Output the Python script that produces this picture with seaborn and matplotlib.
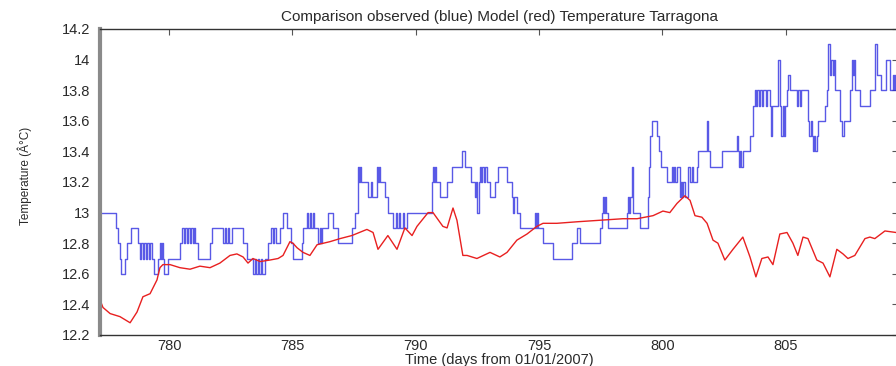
import matplotlib
matplotlib.use("Agg")
import matplotlib.pyplot as plt
import seaborn as sns
import pandas as pd
from matplotlib.ticker import MultipleLocator, FuncFormatter

# Observed sea temperature at Tarragona (step changes, 0.1 degC resolution)
obs_day = [
    777.20, 777.85, 777.93, 778.01, 778.05, 778.21, 778.29, 778.46, 778.74,
    778.82, 778.86, 778.95, 778.99, 779.08, 779.12, 779.20, 779.24,
    779.31, 779.39, 779.55, 779.63, 779.68, 779.71, 779.75, 779.79, 779.96,
    780.44, 780.52, 780.60, 780.64, 780.72, 780.76, 780.84, 780.88, 780.96, 781.00,
    781.05, 781.17, 781.66, 781.74, 782.19, 782.28, 782.32, 782.40, 782.44,
    782.55, 783.00, 783.16, 783.40, 783.48, 783.52, 783.60, 783.64, 783.72, 783.76,
    783.89, 784.01, 784.13, 784.20, 784.24, 784.33, 784.50, 784.62, 784.78, 784.94,
    785.04, 785.37, 785.44, 785.58, 785.63, 785.70, 785.75, 785.82, 785.87,
    786.05, 786.10, 786.14, 786.19, 786.45, 786.66, 786.85, 787.40, 787.55,
    787.67, 787.70, 787.74, 787.78, 788.08, 788.20, 788.24, 788.42, 788.47, 788.51,
    788.55, 788.75, 788.89, 789.09, 789.20, 789.24, 789.34, 789.38, 789.50, 789.54, 789.64,
    790.64, 790.71, 790.76, 790.80, 790.84, 790.98, 791.25, 791.45, 791.86, 791.99,
    792.26, 792.40, 792.45, 792.50, 792.55, 792.60, 792.66, 792.70, 792.76, 792.80,
    792.89, 793.01, 793.21, 793.35, 793.69, 793.89, 793.95, 794.00, 794.09, 794.22,
    794.83, 794.88, 794.92, 794.97, 795.17, 795.57, 796.32, 796.52, 796.66,
    797.47, 797.55, 797.59, 797.63, 797.67, 797.72, 797.80,
    798.55, 798.60, 798.64, 798.70, 798.75, 798.82, 799.09,
    799.40, 799.44, 799.50, 799.56, 799.76, 799.85, 799.96, 800.17,
    800.37, 800.42, 800.47, 800.52, 800.58, 800.70, 800.75, 800.80, 800.85, 800.91,
    801.05, 801.12, 801.18, 801.25, 801.39, 801.45, 801.79, 801.86, 801.93,
    802.40, 803.01, 803.07, 803.10, 803.14, 803.18, 803.25, 803.55, 803.68,
    803.75, 803.80, 803.84, 803.92, 803.96, 804.05, 804.09, 804.18, 804.22,
    804.36, 804.40, 804.45, 804.69, 804.76, 804.82, 804.88, 804.92, 804.97,
    805.03, 805.10, 805.17, 805.44, 805.50, 805.56, 805.62, 805.91, 805.96, 806.02,
    806.06, 806.11, 806.16, 806.20, 806.25, 806.32, 806.59, 806.66, 806.72, 806.79,
    806.85, 806.90, 806.95, 807.00, 807.20, 807.30, 807.35, 807.60, 807.67, 807.71,
    807.75, 807.80, 808.00, 808.41, 808.61, 808.68, 808.88, 809.08, 809.22, 809.36,
    809.40, 809.44, 809.60,
]
obs_temp = [
    13.0, 12.9, 12.8, 12.7, 12.6, 12.7, 12.8, 12.9, 12.8,
    12.7, 12.8, 12.7, 12.8, 12.7, 12.8, 12.7, 12.8,
    12.7, 12.6, 12.7, 12.8, 12.7, 12.8, 12.7, 12.6, 12.7,
    12.8, 12.9, 12.8, 12.9, 12.8, 12.9, 12.8, 12.9, 12.8, 12.9,
    12.8, 12.7, 12.8, 12.9, 12.8, 12.9, 12.8, 12.9, 12.8,
    12.9, 12.8, 12.7, 12.6, 12.7, 12.6, 12.7, 12.6, 12.7, 12.6,
    12.7, 12.8, 12.9, 12.8, 12.9, 12.8, 12.9, 13.0, 12.9, 12.8,
    12.7, 12.8, 12.9, 13.0, 12.9, 13.0, 12.9, 13.0, 12.9,
    12.8, 12.9, 12.8, 12.9, 13.0, 12.9, 12.8, 12.9, 13.0,
    13.3, 13.2, 13.3, 13.2, 13.1, 13.2, 13.1, 13.3, 13.2, 13.3,
    13.2, 13.1, 13.0, 12.9, 13.0, 12.9, 13.0, 12.9, 13.0, 12.9, 13.0,
    13.2, 13.3, 13.2, 13.3, 13.2, 13.1, 13.2, 13.3, 13.4, 13.3,
    13.2, 13.1, 13.2, 13.0, 13.2, 13.3, 13.2, 13.3, 13.2, 13.3,
    13.2, 13.1, 13.2, 13.3, 13.2, 13.1, 13.0, 13.1, 13.0, 12.9,
    13.0, 12.9, 13.0, 12.9, 12.8, 12.7, 12.8, 12.9, 12.8,
    12.9, 13.0, 13.1, 13.0, 13.1, 13.0, 12.9,
    13.0, 13.1, 13.0, 13.1, 13.3, 13.0, 12.9,
    13.1, 13.3, 13.5, 13.6, 13.5, 13.4, 13.3, 13.2,
    13.3, 13.2, 13.3, 13.2, 13.3, 13.1, 13.2, 13.1, 13.2, 13.1,
    13.3, 13.2, 13.3, 13.2, 13.3, 13.4, 13.6, 13.4, 13.3,
    13.4, 13.5, 13.4, 13.3, 13.4, 13.3, 13.4, 13.5, 13.7,
    13.8, 13.7, 13.8, 13.7, 13.8, 13.7, 13.8, 13.7, 13.8,
    13.7, 13.5, 13.7, 14.0, 13.7, 13.5, 13.7, 13.5, 13.7,
    13.8, 13.9, 13.8, 13.7, 13.8, 13.7, 13.8, 13.6, 13.5, 13.6,
    13.5, 13.4, 13.5, 13.4, 13.5, 13.6, 13.7, 13.8, 14.1, 13.9,
    14.0, 13.9, 14.0, 13.8, 13.6, 13.5, 13.6, 13.8, 14.0, 13.9,
    14.0, 13.8, 13.7, 13.8, 14.1, 13.9, 13.8, 14.0, 13.8, 13.9,
    13.8, 13.9, 13.9,
]

# Model temperature at the same site
model_day = [
    777.20, 777.32, 777.61, 778.01, 778.42, 778.70, 778.94, 779.23, 779.51, 779.63,
    779.75, 780.04, 780.44, 780.85, 781.25, 781.66, 782.06, 782.47, 782.75, 783.00,
    783.20, 783.40, 783.69, 784.09, 784.42, 784.62, 784.90, 785.02, 785.19, 785.43,
    785.71, 786.00, 786.52, 786.93, 787.41, 788.02, 788.27, 788.47, 788.87, 789.24,
    789.56, 789.85, 790.05, 790.50, 790.70, 791.10, 791.27, 791.51, 791.67, 791.91,
    792.08, 792.48, 793.01, 793.41, 793.70, 794.10, 794.51, 794.91, 795.16, 795.72,
    796.54, 797.47, 798.40, 798.97, 799.62, 800.02, 800.30, 800.59, 800.91, 801.12,
    801.32, 801.60, 801.81, 802.05, 802.25, 802.53, 802.86, 803.26, 803.55, 803.79,
    804.03, 804.28, 804.48, 804.76, 805.05, 805.29, 805.49, 805.70, 805.90, 806.26,
    806.51, 806.79, 807.07, 807.32, 807.52, 807.80, 808.21, 808.41, 808.61, 809.02,
    809.47,
]
model_temp = [
    12.43, 12.38, 12.34, 12.32, 12.28, 12.35, 12.45, 12.47, 12.56, 12.64,
    12.66, 12.66, 12.64, 12.63, 12.65, 12.64, 12.67, 12.72, 12.73, 12.71,
    12.67, 12.70, 12.68, 12.69, 12.70, 12.72, 12.81, 12.80, 12.77, 12.74,
    12.72, 12.79, 12.81, 12.83, 12.85, 12.89, 12.87, 12.76, 12.85, 12.76,
    12.90, 12.85, 12.91, 13.00, 13.00, 12.91, 12.90, 13.03, 12.95, 12.72,
    12.72, 12.70, 12.74, 12.71, 12.74, 12.82, 12.86, 12.91, 12.93, 12.93,
    12.94, 12.95, 12.96, 12.96, 12.98, 13.01, 13.00, 13.06, 13.11, 13.08,
    12.98, 12.97, 12.93, 12.82, 12.80, 12.69, 12.76, 12.84, 12.71, 12.58,
    12.70, 12.71, 12.66, 12.86, 12.87, 12.80, 12.72, 12.84, 12.83, 12.69,
    12.67, 12.58, 12.76, 12.73, 12.70, 12.72, 12.83, 12.84, 12.83, 12.88,
    12.87,
]

x_ticks = [780, 785, 790, 795, 800, 805]

obs = pd.DataFrame({"day": obs_day, "temp": obs_temp})
model = pd.DataFrame({"day": model_day, "temp": model_temp})

sns.set_style("white")
plt.rcParams["font.family"] = ["Liberation Sans", "DejaVu Sans"]

fig = plt.figure(figsize=(8.96, 3.66), dpi=100)
ax = fig.add_axes([100 / 896, 31 / 366, 798 / 896, 306 / 366])

sns.lineplot(data=obs, x="day", y="temp", ax=ax, estimator=None, sort=False,
             drawstyle="steps-post", color="#3030e0", linewidth=1.0, alpha=0.8)
sns.lineplot(data=model, x="day", y="temp", ax=ax, estimator=None, sort=False,
             color="#e82020", linewidth=1.0)

ax.set_xlim(777.2, 809.55)
ax.set_ylim(12.2, 14.2)
ax.set_xticks(x_ticks)
ax.yaxis.set_major_locator(MultipleLocator(0.2))
ax.yaxis.set_major_formatter(FuncFormatter(lambda v, p: f"{v:g}"))

text_color = "#2a2a2a"
ax.tick_params(axis="both", which="major", direction="in", length=4, width=0.8,
               top=True, right=True, colors="#555555", labelcolor=text_color,
               labelsize=10.5)
ax.tick_params(axis="x", pad=3)
ax.tick_params(axis="y", pad=7)

for side in ["top", "bottom", "right"]:
    ax.spines[side].set_color("#333333")
    ax.spines[side].set_linewidth(1.0)
ax.spines["left"].set_color("#8a8a8a")
ax.spines["left"].set_linewidth(3.0)

ax.set_title("Comparison observed (blue) Model (red) Temperature Tarragona",
             fontsize=11, color=text_color, pad=6)
ax.set_xlabel("Time (days from 01/01/2007)", fontsize=10.5, color=text_color)
ax.set_ylabel("Temperature (Â°C)", fontsize=8.5, color=text_color)
ax.xaxis.set_label_coords(0.5, -0.058)
ax.yaxis.set_label_coords(-0.085, 0.52)

fig.savefig("out.png", dpi=100)
